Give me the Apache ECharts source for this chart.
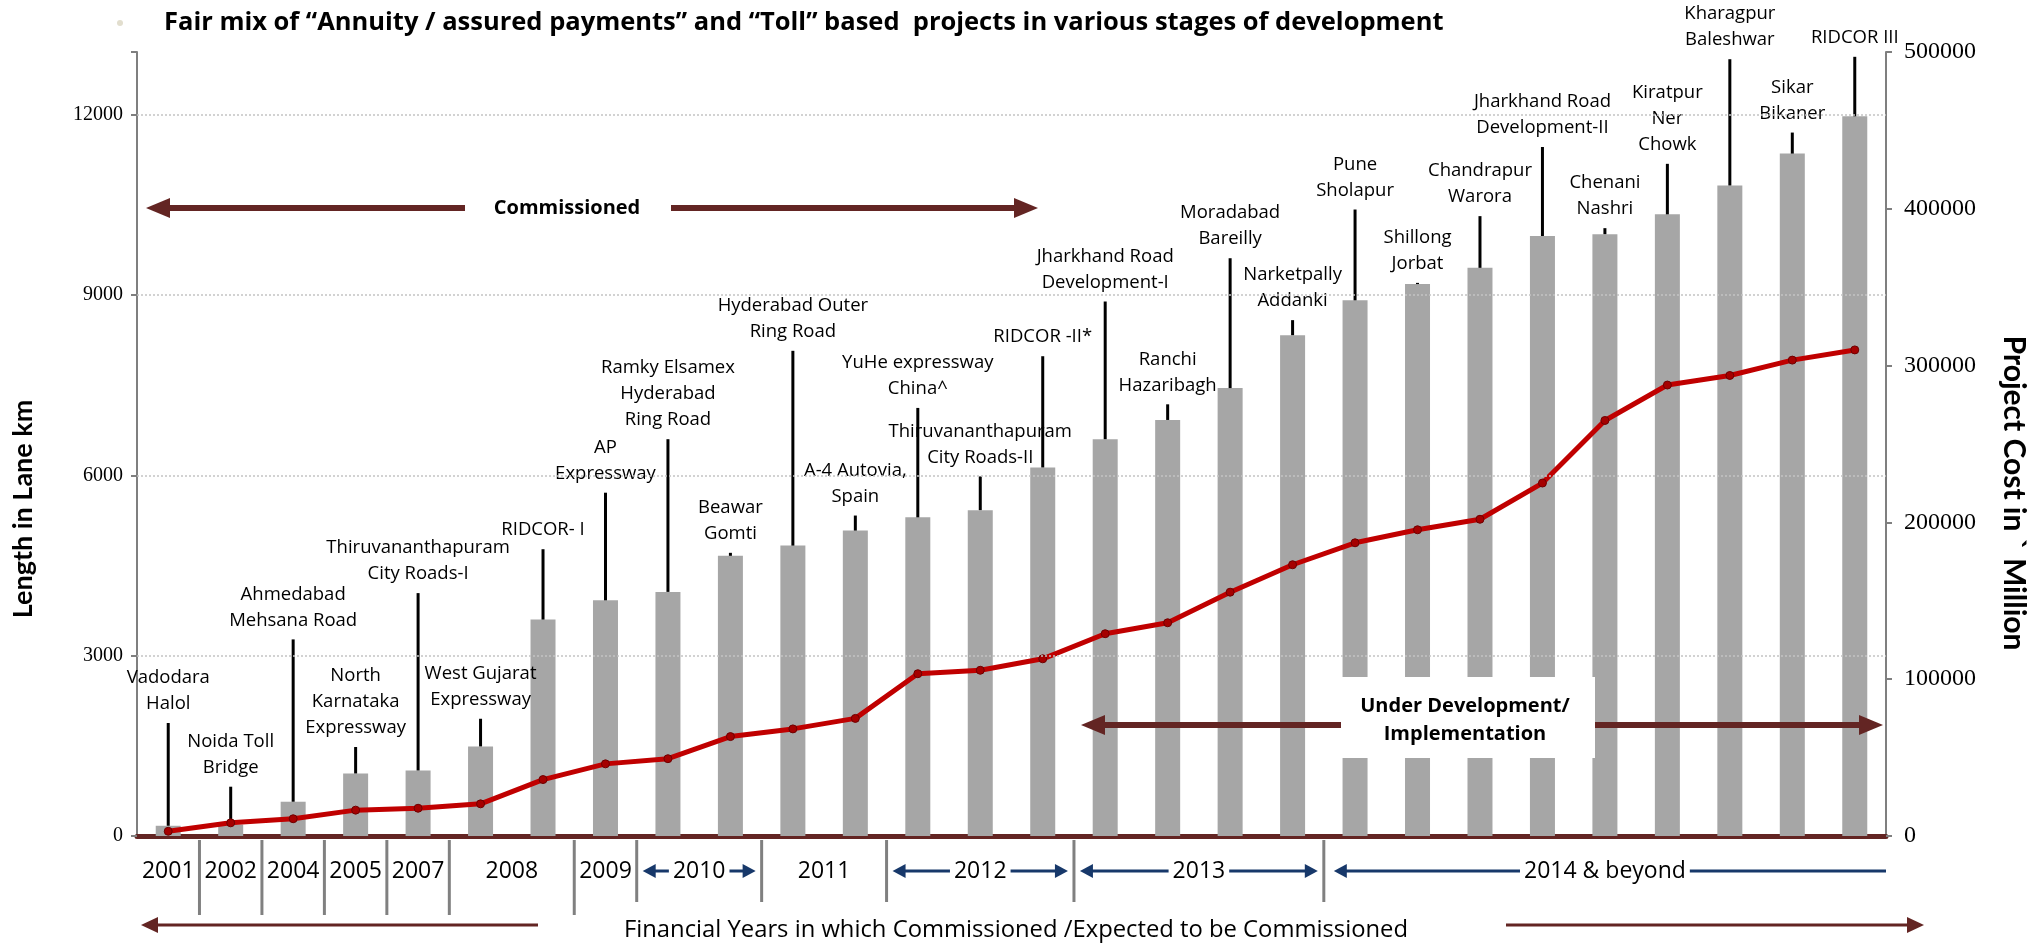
<!DOCTYPE html>
<html>
<head>
<meta charset="utf-8">
<script src="https://cdn.jsdelivr.net/npm/echarts@6/dist/echarts.min.js"></script>
<style>
  html, body { margin: 0; padding: 0; background: #fff; }
  #chart { width: 2042px; height: 945px; }
</style>
</head>
<body>
<div id="chart"></div>
<script>
// project names (label text above each bar)
const projects = [
  'Vadodara\nHalol', 'Noida Toll\nBridge', 'Ahmedabad\nMehsana Road', 'North\nKarnataka\nExpressway',
  'Thiruvananthapuram\nCity Roads-I', 'West Gujarat\nExpressway', 'RIDCOR- I', 'AP\nExpressway',
  'Ramky Elsamex\nHyderabad\nRing Road', 'Beawar\nGomti', 'Hyderabad Outer\nRing Road', 'A-4 Autovia,\nSpain',
  'YuHe expressway\nChina^', 'Thiruvananthapuram\nCity Roads-II', 'RIDCOR -II*', 'Jharkhand Road\nDevelopment-I',
  'Ranchi\nHazaribagh', 'Moradabad\nBareilly', 'Narketpally\nAddanki', 'Pune\nSholapur',
  'Shillong\nJorbat', 'Chandrapur\nWarora', 'Jharkhand Road\nDevelopment-II', 'Chenani\nNashri',
  'Kiratpur\nNer\nChowk', 'Kharagpur\nBaleshwar', 'Sikar\nBikaner', 'RIDCOR III'
];
// cumulative length in lane km (bars, left axis)
const laneKm = [170, 190, 570, 1040, 1090, 1490, 3600, 3920, 4060, 4660, 4830, 5080, 5300, 5420,
  6130, 6600, 6920, 7450, 8330, 8910, 9180, 9450, 9980, 10010, 10340, 10820, 11350, 11970];
// top of the black leader line to each label (left axis units)
const leaderTop = [1880, 820, 3270, 1480, 4040, 1950, 4770, 5710, 6600, 4710, 8070, 5330, 7120, 5980,
  7980, 8890, 7180, 9610, 8580, 10420, 9200, 10310, 11460, 10110, 11180, 12920, 11700, 12960];
// cumulative project cost (line, right axis)
const projectCost = [3000, 8400, 11000, 16500, 17700, 20500, 36000, 46000, 49300, 63400, 68300, 75000,
  103500, 105700, 113000, 129000, 136000, 155500, 173000, 187000, 195300, 202000, 225100, 265000,
  287600, 293700, 303500, 310000];
const leftTicks = [3000, 6000, 9000, 12000];

// financial year groups under the axis
const yearLabels = ['2001', '2002', '2004', '2005', '2007', '2008', '2009', '2010', '2011', '2012', '2013', '2014 & beyond'];
const yearFirst = [0, 1, 2, 3, 4, 5, 7, 8, 10, 12, 15, 19];
const yearLast = [0, 1, 2, 3, 4, 6, 7, 9, 11, 14, 18, 27];
const yearArrows = ['', '', '', '', '', '', '', 'both', '', 'both', 'both', 'left'];

const MAROON = '#632523';
const NAVY = '#17386a';
const SANS = '"Open Sans"';

const measureCtx = document.createElement('canvas').getContext('2d');
function textWidth(t, font) {
  measureCtx.font = font;
  return measureCtx.measureText(t).width;
}

// line + triangular head, head at xHead
function arrow(xTail, xHead, y, color, w, hl, hh, z) {
  const dir = xHead > xTail ? 1 : -1;
  return [
    { type: 'line', z: z, shape: { x1: xTail, y1: y, x2: xHead - dir * (hl - 2), y2: y },
      style: { stroke: color, lineWidth: w } },
    { type: 'polygon', z: z, shape: { points: [[xHead, y], [xHead - dir * hl, y - hh], [xHead - dir * hl, y + hh]] },
      style: { fill: color } }
  ];
}
function plainLine(xa, xb, y, color, w, z) {
  return { type: 'line', z: z, shape: { x1: xa, y1: y, x2: xb, y2: y }, style: { stroke: color, lineWidth: w } };
}
function txt(text, x, y, font, extra, align) {
  const a = align || 'center';
  return Object.assign({
    type: 'text', z: 20, x: x, y: y,
    style: { text: text, font: font, fill: '#000', align: a, verticalAlign: 'middle',
      textAlign: a, textVerticalAlign: 'middle' }
  }, extra || {});
}

const chart = echarts.init(document.getElementById('chart'));

const title = 'Fair mix of \u201cAnnuity / assured payments\u201d and \u201cToll\u201d based  projects in various stages of development';

const graphics = [].concat(
  [{ type: 'circle', z: 20, shape: { cx: 120, cy: 23, r: 3 }, style: { fill: '#e2dece' } }],
  [txt(title, 164, 23, 'bold 25.5px ' + SANS, null, 'left')],
  [txt('Length in Lane km', 23, 509, 'bold 27px Lato', { rotation: Math.PI / 2 })],
  [txt('Project Cost in ` Million', 2014, 493, 'bold 30px Lato', { rotation: -Math.PI / 2 })],
  // commissioned
  arrow(465, 146, 208, MAROON, 6, 24, 10, 20),
  arrow(671, 1038, 208, MAROON, 6, 24, 10, 20),
  [txt('Commissioned', 567, 208, 'bold 20px ' + SANS)],
  // under development
  arrow(1341, 1081, 725, MAROON, 6, 24, 10, 20),
  arrow(1595, 1883, 725, MAROON, 6, 24, 10, 20),
  [{ type: 'rect', z: 15, shape: { x: 1341, y: 677, width: 254, height: 81 }, style: { fill: '#fff' } }],
  [txt('Under Development/', 1465, 706, 'bold 20px ' + SANS), txt('Implementation', 1465, 734, 'bold 20px ' + SANS)],
  // bottom
  arrow(538, 141, 925, MAROON, 3, 17, 8, 20),
  arrow(1506, 1924, 925, MAROON, 3, 17, 8, 20),
  [txt('Financial Years in which Commissioned /Expected to be Commissioned', 1016, 930, '23.8px ' + SANS)]
);

const yearFont = '23px ' + SANS;

const option = {
  animation: false,
  backgroundColor: '#fff',
  grid: { left: 137, right: 156, top: 52, bottom: 109 },
  xAxis: {
    type: 'category',
    data: projects,
    boundaryGap: true,
    axisLine: { show: true, lineStyle: { color: MAROON, width: 5 } },
    axisTick: { show: false },
    axisLabel: { show: false },
    splitLine: { show: false }
  },
  yAxis: [
    {
      type: 'value', min: 0, max: 13040, interval: 3000, position: 'left',
      axisLine: { show: true, lineStyle: { color: '#7f7f7f', width: 2 } },
      axisTick: { show: true, length: 6, lineStyle: { color: '#7f7f7f', width: 2 } },
      axisLabel: {
        margin: 14, color: '#000', fontFamily: 'Liberation Serif', fontSize: 20,
        formatter: v => (v % 3000 === 0 ? String(v) : '')
      },
      splitLine: { show: false }
    },
    {
      type: 'value', min: 0, max: 500000, interval: 100000, position: 'right',
      axisLine: { show: true, lineStyle: { color: '#7f7f7f', width: 2 } },
      axisTick: { show: true, length: 6, lineStyle: { color: '#7f7f7f', width: 2 } },
      axisLabel: { margin: 18, color: '#000', fontFamily: 'Liberation Serif', fontSize: 24,
        formatter: v => String(v) },
      splitLine: { show: false }
    }
  ],
  graphic: { elements: graphics },
  series: [
    {
      // grid lines behind bars
      type: 'line', yAxisIndex: 0, z: 1, data: [],
      markLine: {
        silent: true, symbol: ['none', 'none'], label: { show: false },
        lineStyle: { color: '#c4c4c4', type: [2, 2], width: 1.5 },
        data: leftTicks.map(v => ({ yAxis: v }))
      }
    },
    {
      type: 'bar', yAxisIndex: 0, z: 2, barWidth: 25,
      itemStyle: { color: '#a6a6a6' },
      data: laneKm
    },
    {
      type: 'custom', yAxisIndex: 0, z: 3,
      data: projects.map((p, i) => [i, laneKm[i], leaderTop[i]]),
      encode: { x: 0, y: 2 },
      renderItem: function (params, api) {
        const i = api.value(0);
        const top = api.coord([i, api.value(1)]);
        const lead = api.coord([i, api.value(2)]);
        return {
          type: 'group',
          children: [
            { type: 'line', shape: { x1: top[0], y1: top[1], x2: lead[0], y2: lead[1] },
              style: { stroke: '#000', lineWidth: 3 } },
            { type: 'text', style: {
                text: projects[i], x: lead[0], y: lead[1] - 6,
                align: 'center', verticalAlign: 'bottom', textAlign: 'center', textVerticalAlign: 'bottom',
                fontSize: 18.5, fontFamily: 'Open Sans', lineHeight: 26, fill: '#000' } }
          ]
        };
      }
    },
    {
      type: 'line', yAxisIndex: 1, z: 4,
      data: projectCost,
      lineStyle: { color: '#c00000', width: 5 },
      symbol: 'circle', symbolSize: 8,
      itemStyle: { color: '#a50000', borderColor: '#6e0000', borderWidth: 1 }
    },
    {
      type: 'custom', yAxisIndex: 0, z: 5,
      data: yearLabels.map((y, gi) => [yearFirst[gi], 0, gi]),
      encode: { x: 0, y: 1 },
      renderItem: function (params, api) {
        const gi = api.value(2);
        const band = api.size([1, 0])[0];
        const base = api.coord([yearFirst[gi], 0]);
        const x0 = base[0] - band / 2;
        const x1 = api.coord([yearLast[gi], 0])[0] + band / 2;
        const y0 = base[1];
        const cx = (x0 + x1) / 2;
        const ty = y0 + 35;
        const children = [
          { type: 'text', style: {
              text: yearLabels[gi], x: cx, y: ty, font: yearFont, fill: '#000',
              align: 'center', verticalAlign: 'middle', textAlign: 'center', textVerticalAlign: 'middle' } }
        ];
        if (gi > 0) {
          children.push({ type: 'line', shape: { x1: x0, y1: y0 + 4, x2: x0, y2: y0 + (gi <= 6 ? 79 : 66) },
            style: { stroke: '#808080', lineWidth: 3 } });
        }
        const tw = textWidth(yearLabels[gi], yearFont);
        const tl = cx - tw / 2 - 4;
        const tr = cx + tw / 2 + 4;
        const mode = yearArrows[gi];
        if (mode === 'both') {
          arrow(tl, x0 + 6, ty, NAVY, 3, 13, 7).forEach(e => children.push(e));
          arrow(tr, x1 - 6, ty, NAVY, 3, 13, 7).forEach(e => children.push(e));
        } else if (mode === 'left') {
          arrow(tl, x0 + 10, ty, NAVY, 3, 13, 7).forEach(e => children.push(e));
          children.push(plainLine(tr, x1, ty, NAVY, 3));
        }
        return { type: 'group', children: children };
      }
    }
  ]
};

chart.setOption(option);
</script>
</body>
</html>
